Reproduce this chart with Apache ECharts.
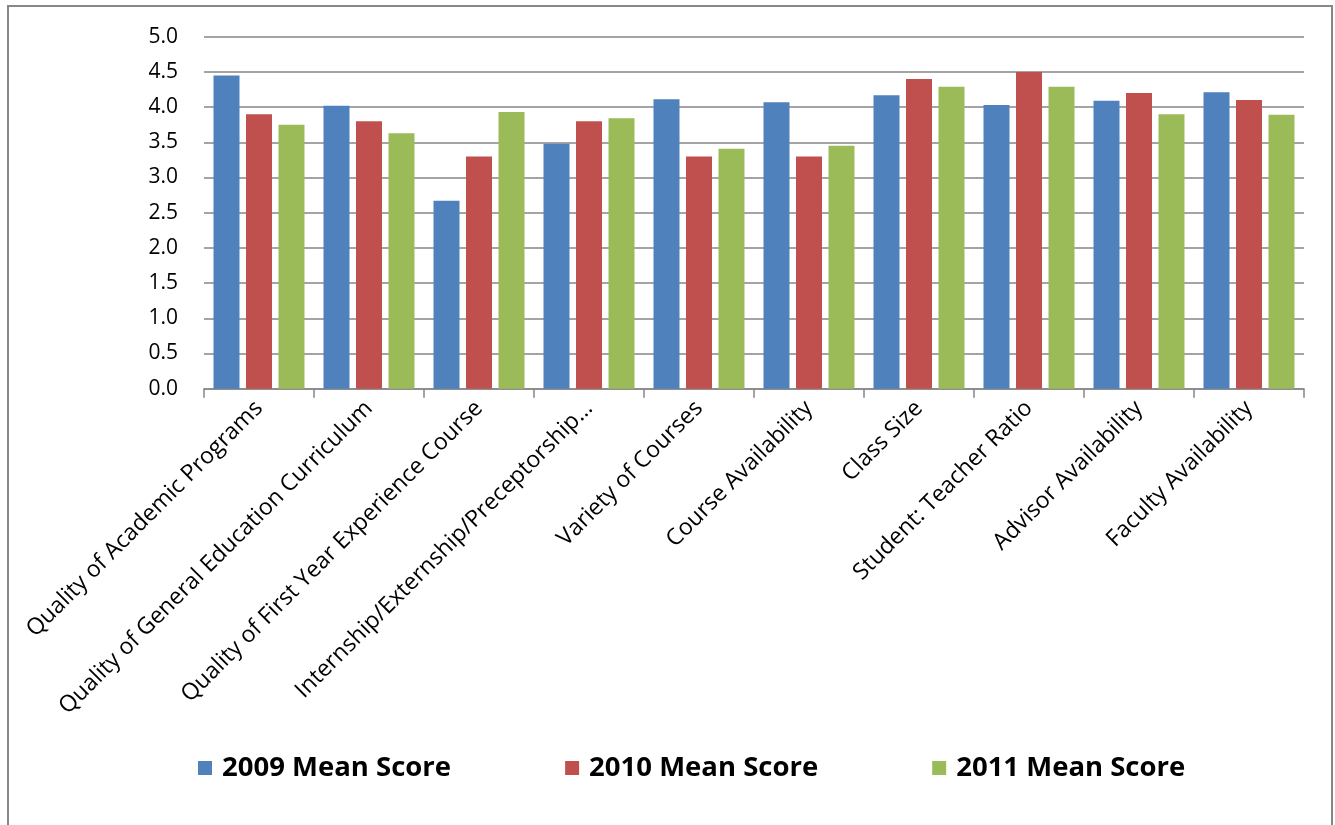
<!DOCTYPE html>
<html>
<head>
<meta charset="utf-8">
<style>
  html, body { margin: 0; padding: 0; background: #ffffff; }
  #chart { width: 1335px; height: 825px; }
</style>
<script src="https://cdn.jsdelivr.net/npm/echarts@6/dist/echarts.min.js"></script>
</head>
<body>
<div id="chart"></div>
<script>
// Survey areas rated by students
const categories = [
  'Quality of Academic Programs',
  'Quality of General Education Curriculum',
  'Quality of First Year Experience Course',
  'Internship/Externship/Preceptorship…',
  'Variety of Courses',
  'Course Availability',
  'Class Size',
  'Student: Teacher Ratio',
  'Advisor Availability',
  'Faculty Availability'
];

// Mean scores per year
const scores2009 = [4.45, 4.02, 2.67, 3.48, 4.11, 4.07, 4.17, 4.03, 4.09, 4.21];
const scores2010 = [3.90, 3.80, 3.30, 3.80, 3.30, 3.30, 4.40, 4.50, 4.20, 4.10];
const scores2011 = [3.75, 3.63, 3.93, 3.84, 3.41, 3.45, 4.29, 4.29, 3.90, 3.89];

const seriesNames = ['2009 Mean Score', '2010 Mean Score', '2011 Mean Score'];
const seriesColors = ['#4F81BD', '#C0504D', '#9BBB59'];

// Value axis ticks
const yMin = 0, yMax = 5, yStep = 0.5;

const FONT = '"Open Sans", "Liberation Sans", sans-serif';
const chart = echarts.init(document.getElementById('chart'), null, { renderer: 'canvas' });

const seriesData = [scores2009, scores2010, scores2011];

chart.setOption({
  animation: false,
  backgroundColor: '#ffffff',
  graphic: [{
    type: 'rect',
    shape: { x: 8, y: 6, width: 1324, height: 840 },
    style: { fill: 'none', stroke: '#878787', lineWidth: 2 },
    silent: true,
    z: -1
  }],
  grid: { left: 204, right: 31, top: 36.7, bottom: 436.3, containLabel: false },
  legend: {
    data: seriesNames,
    left: 198,
    top: 752,
    padding: 0,
    itemGap: 114,
    itemWidth: 14,
    itemHeight: 14,
    icon: 'rect',
    textStyle: {
      fontFamily: FONT,
      fontWeight: 'bold',
      fontSize: 27.5,
      color: '#000000',
      lineHeight: 32,
      padding: [0, 0, 0, 5]
    }
  },
  xAxis: {
    type: 'category',
    data: categories,
    boundaryGap: true,
    axisLine: { show: true, lineStyle: { color: '#868686', width: 1.5 } },
    axisTick: { show: true, length: 9, lineStyle: { color: '#868686', width: 1.5 } },
    axisLabel: {
      interval: 0,
      rotate: 45,
      margin: 16,
      fontFamily: FONT,
      fontSize: 23,
      color: '#000000'
    },
    splitLine: { show: false }
  },
  yAxis: {
    type: 'value',
    min: yMin,
    max: yMax,
    interval: yStep,
    axisLine: { show: false },
    axisTick: { show: false },
    axisLabel: {
      margin: 26,
      fontFamily: FONT,
      fontSize: 21,
      color: '#000000',
      formatter: v => v.toFixed(1)
    },
    splitLine: { show: true, lineStyle: { color: '#868686', width: 1.5 } }
  },
  series: seriesNames.map((name, i) => ({
    name: name,
    type: 'bar',
    data: seriesData[i],
    barWidth: 26,
    barGap: '25%',
    itemStyle: { color: seriesColors[i] }
  }))
});
</script>
</body>
</html>
